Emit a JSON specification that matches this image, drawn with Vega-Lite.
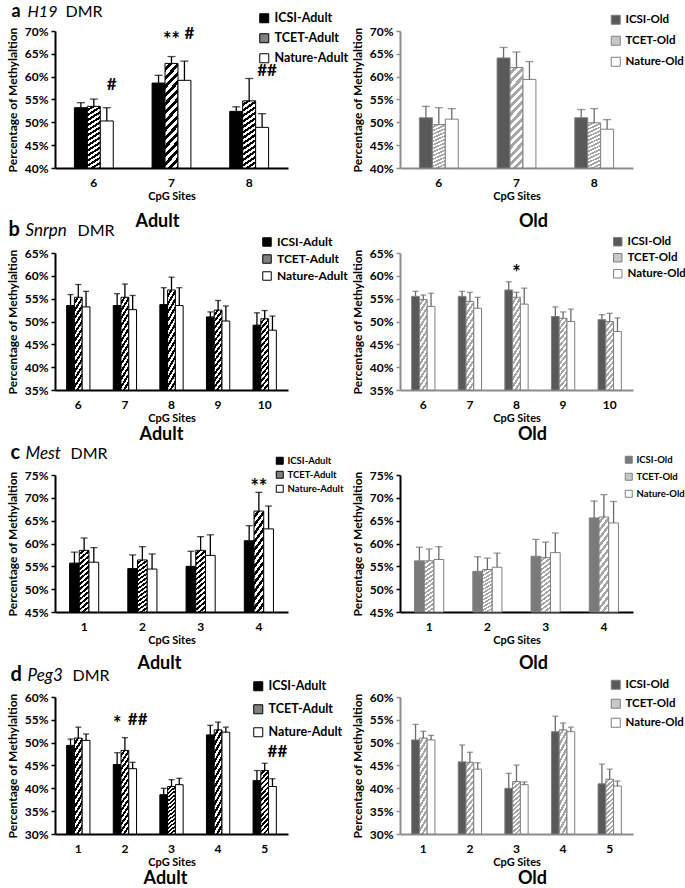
{
  "$schema": "https://vega.github.io/schema/vega-lite/v6.json",
  "padding": {"left": 6, "top": 2, "right": 0, "bottom": 0},
  "config": {
    "font": "Lato",
    "view": {"stroke": null},
    "axis": {"labelFont": "Lato", "labelFontWeight": "bold", "labelFontSize": 12, "labelColor": "#000", "titleFont": "Lato", "titleFontWeight": "bold", "titleFontSize": 11, "titleColor": "#000", "grid": false, "domainWidth": 2, "zindex": 1},
    "axisX": {"labelAngle": 0, "ticks": false, "labelPadding": 9, "titlePadding": 2},
    "axisY": {"tickSize": 4, "tickWidth": 1.5, "labelPadding": 3, "titlePadding": 5, "titleFontSize": 12},
    "legend": {"labelFont": "Lato", "labelFontWeight": "bold", "labelColor": "#000", "symbolType": "square", "symbolStrokeWidth": 1, "labelOffset": 4, "orient": "none"},
    "title": {"font": "Lato", "fontWeight": "bold", "fontSize": 18, "color": "#000", "orient": "bottom", "anchor": "middle", "frame": "group"}
  },
  "datasets": {
    "a_adult": [
      {"site": 6, "group": "ICSI-Adult", "mean": 0.532, "upper": 0.543},
      {"site": 6, "group": "TCET-Adult", "mean": 0.535, "upper": 0.551},
      {"site": 6, "group": "Nature-Adult", "mean": 0.503, "upper": 0.532},
      {"site": 7, "group": "ICSI-Adult", "mean": 0.586, "upper": 0.603},
      {"site": 7, "group": "TCET-Adult", "mean": 0.629, "upper": 0.644},
      {"site": 7, "group": "Nature-Adult", "mean": 0.592, "upper": 0.634},
      {"site": 8, "group": "ICSI-Adult", "mean": 0.524, "upper": 0.534},
      {"site": 8, "group": "TCET-Adult", "mean": 0.547, "upper": 0.596},
      {"site": 8, "group": "Nature-Adult", "mean": 0.489, "upper": 0.519}
    ],
    "a_old": [
      {"site": 6, "group": "ICSI-Old", "mean": 0.510, "upper": 0.535},
      {"site": 6, "group": "TCET-Old", "mean": 0.495, "upper": 0.532},
      {"site": 6, "group": "Nature-Old", "mean": 0.507, "upper": 0.530},
      {"site": 7, "group": "ICSI-Old", "mean": 0.641, "upper": 0.664},
      {"site": 7, "group": "TCET-Old", "mean": 0.620, "upper": 0.654},
      {"site": 7, "group": "Nature-Old", "mean": 0.594, "upper": 0.633},
      {"site": 8, "group": "ICSI-Old", "mean": 0.510, "upper": 0.528},
      {"site": 8, "group": "TCET-Old", "mean": 0.499, "upper": 0.530},
      {"site": 8, "group": "Nature-Old", "mean": 0.485, "upper": 0.506}
    ],
    "b_adult": [
      {"site": 6, "group": "ICSI-Adult", "mean": 0.535, "upper": 0.559},
      {"site": 6, "group": "TCET-Adult", "mean": 0.553, "upper": 0.581},
      {"site": 6, "group": "Nature-Adult", "mean": 0.532, "upper": 0.566},
      {"site": 7, "group": "ICSI-Adult", "mean": 0.535, "upper": 0.561},
      {"site": 7, "group": "TCET-Adult", "mean": 0.553, "upper": 0.582},
      {"site": 7, "group": "Nature-Adult", "mean": 0.526, "upper": 0.557},
      {"site": 8, "group": "ICSI-Adult", "mean": 0.537, "upper": 0.574},
      {"site": 8, "group": "TCET-Adult", "mean": 0.569, "upper": 0.597},
      {"site": 8, "group": "Nature-Adult", "mean": 0.535, "upper": 0.574},
      {"site": 9, "group": "ICSI-Adult", "mean": 0.510, "upper": 0.521},
      {"site": 9, "group": "TCET-Adult", "mean": 0.525, "upper": 0.546},
      {"site": 9, "group": "Nature-Adult", "mean": 0.501, "upper": 0.534},
      {"site": 10, "group": "ICSI-Adult", "mean": 0.492, "upper": 0.519},
      {"site": 10, "group": "TCET-Adult", "mean": 0.506, "upper": 0.524},
      {"site": 10, "group": "Nature-Adult", "mean": 0.481, "upper": 0.512}
    ],
    "b_old": [
      {"site": 6, "group": "ICSI-Old", "mean": 0.555, "upper": 0.566},
      {"site": 6, "group": "TCET-Old", "mean": 0.548, "upper": 0.558},
      {"site": 6, "group": "Nature-Old", "mean": 0.533, "upper": 0.562},
      {"site": 7, "group": "ICSI-Old", "mean": 0.555, "upper": 0.566},
      {"site": 7, "group": "TCET-Old", "mean": 0.544, "upper": 0.564},
      {"site": 7, "group": "Nature-Old", "mean": 0.529, "upper": 0.553},
      {"site": 8, "group": "ICSI-Old", "mean": 0.569, "upper": 0.587},
      {"site": 8, "group": "TCET-Old", "mean": 0.553, "upper": 0.564},
      {"site": 8, "group": "Nature-Old", "mean": 0.538, "upper": 0.573},
      {"site": 9, "group": "ICSI-Old", "mean": 0.511, "upper": 0.532},
      {"site": 9, "group": "TCET-Old", "mean": 0.507, "upper": 0.521},
      {"site": 9, "group": "Nature-Old", "mean": 0.500, "upper": 0.527},
      {"site": 10, "group": "ICSI-Old", "mean": 0.504, "upper": 0.515},
      {"site": 10, "group": "TCET-Old", "mean": 0.500, "upper": 0.518},
      {"site": 10, "group": "Nature-Old", "mean": 0.478, "upper": 0.508}
    ],
    "c_adult": [
      {"site": 1, "group": "ICSI-Adult", "mean": 0.557, "upper": 0.581},
      {"site": 1, "group": "TCET-Adult", "mean": 0.585, "upper": 0.612},
      {"site": 1, "group": "Nature-Adult", "mean": 0.559, "upper": 0.591},
      {"site": 2, "group": "ICSI-Adult", "mean": 0.545, "upper": 0.575},
      {"site": 2, "group": "TCET-Adult", "mean": 0.564, "upper": 0.593},
      {"site": 2, "group": "Nature-Adult", "mean": 0.544, "upper": 0.577},
      {"site": 3, "group": "ICSI-Adult", "mean": 0.550, "upper": 0.583},
      {"site": 3, "group": "TCET-Adult", "mean": 0.585, "upper": 0.615},
      {"site": 3, "group": "Nature-Adult", "mean": 0.574, "upper": 0.619},
      {"site": 4, "group": "ICSI-Adult", "mean": 0.606, "upper": 0.639},
      {"site": 4, "group": "TCET-Adult", "mean": 0.671, "upper": 0.712},
      {"site": 4, "group": "Nature-Adult", "mean": 0.632, "upper": 0.682}
    ],
    "c_old": [
      {"site": 1, "group": "ICSI-Old", "mean": 0.562, "upper": 0.592},
      {"site": 1, "group": "TCET-Old", "mean": 0.562, "upper": 0.588},
      {"site": 1, "group": "Nature-Old", "mean": 0.565, "upper": 0.593},
      {"site": 2, "group": "ICSI-Old", "mean": 0.539, "upper": 0.571},
      {"site": 2, "group": "TCET-Old", "mean": 0.543, "upper": 0.568},
      {"site": 2, "group": "Nature-Old", "mean": 0.548, "upper": 0.579},
      {"site": 3, "group": "ICSI-Old", "mean": 0.572, "upper": 0.609},
      {"site": 3, "group": "TCET-Old", "mean": 0.569, "upper": 0.603},
      {"site": 3, "group": "Nature-Old", "mean": 0.580, "upper": 0.623},
      {"site": 4, "group": "ICSI-Old", "mean": 0.656, "upper": 0.693},
      {"site": 4, "group": "TCET-Old", "mean": 0.658, "upper": 0.707},
      {"site": 4, "group": "Nature-Old", "mean": 0.645, "upper": 0.692}
    ],
    "d_adult": [
      {"site": 1, "group": "ICSI-Adult", "mean": 0.494, "upper": 0.508},
      {"site": 1, "group": "TCET-Adult", "mean": 0.510, "upper": 0.534},
      {"site": 1, "group": "Nature-Adult", "mean": 0.505, "upper": 0.519},
      {"site": 2, "group": "ICSI-Adult", "mean": 0.452, "upper": 0.478},
      {"site": 2, "group": "TCET-Adult", "mean": 0.483, "upper": 0.511},
      {"site": 2, "group": "Nature-Adult", "mean": 0.443, "upper": 0.457},
      {"site": 3, "group": "ICSI-Adult", "mean": 0.386, "upper": 0.400},
      {"site": 3, "group": "TCET-Adult", "mean": 0.404, "upper": 0.419},
      {"site": 3, "group": "Nature-Adult", "mean": 0.408, "upper": 0.422},
      {"site": 4, "group": "ICSI-Adult", "mean": 0.517, "upper": 0.538},
      {"site": 4, "group": "TCET-Adult", "mean": 0.528, "upper": 0.545},
      {"site": 4, "group": "Nature-Adult", "mean": 0.523, "upper": 0.534},
      {"site": 5, "group": "ICSI-Adult", "mean": 0.417, "upper": 0.439},
      {"site": 5, "group": "TCET-Adult", "mean": 0.439, "upper": 0.455},
      {"site": 5, "group": "Nature-Adult", "mean": 0.404, "upper": 0.421}
    ],
    "d_old": [
      {"site": 1, "group": "ICSI-Old", "mean": 0.506, "upper": 0.540},
      {"site": 1, "group": "TCET-Old", "mean": 0.510, "upper": 0.525},
      {"site": 1, "group": "Nature-Old", "mean": 0.506, "upper": 0.516},
      {"site": 2, "group": "ICSI-Old", "mean": 0.458, "upper": 0.495},
      {"site": 2, "group": "TCET-Old", "mean": 0.457, "upper": 0.479},
      {"site": 2, "group": "Nature-Old", "mean": 0.442, "upper": 0.456},
      {"site": 3, "group": "ICSI-Old", "mean": 0.400, "upper": 0.433},
      {"site": 3, "group": "TCET-Old", "mean": 0.415, "upper": 0.451},
      {"site": 3, "group": "Nature-Old", "mean": 0.408, "upper": 0.414},
      {"site": 4, "group": "ICSI-Old", "mean": 0.524, "upper": 0.558},
      {"site": 4, "group": "TCET-Old", "mean": 0.528, "upper": 0.543},
      {"site": 4, "group": "Nature-Old", "mean": 0.524, "upper": 0.534},
      {"site": 5, "group": "ICSI-Old", "mean": 0.410, "upper": 0.453},
      {"site": 5, "group": "TCET-Old", "mean": 0.420, "upper": 0.442},
      {"site": 5, "group": "Nature-Old", "mean": 0.405, "upper": 0.416}
    ],
    "a_adult_star": [{"site": 7, "group": "TCET-Adult", "label": "**", "y": 0.688}],
    "a_adult_hash": [
      {"site": 6, "group": "Nature-Adult", "label": "#", "y": 0.581},
      {"site": 7, "group": "Nature-Adult", "label": "#", "y": 0.693},
      {"site": 8, "group": "Nature-Adult", "label": "##", "y": 0.612}
    ],
    "b_old_star": [{"site": 8, "group": "TCET-Old", "label": "*", "y": 0.616}],
    "c_adult_star": [{"site": 4, "group": "TCET-Adult", "label": "**", "y": 0.732}],
    "d_adult_star": [{"site": 2, "group": "ICSI-Adult", "label": "*", "y": 0.549}],
    "d_adult_hash": [
      {"site": 2, "group": "Nature-Adult", "label": "##", "y": 0.549},
      {"site": 5, "group": "Nature-Adult", "label": "##", "y": 0.479}
    ]
  },
  "columns": 2,
  "bounds": "flush",
  "spacing": {"row": 85, "column": 112},
  "resolve": {
    "scale": {"x": "independent", "y": "independent", "xOffset": "independent", "fill": "independent"},
    "axis": {"x": "independent", "y": "independent"},
    "legend": {"fill": "independent"}
  },
  "concat": [
    {
      "width": 233, "height": 137,
      "data": {"name": "a_adult"},
      "title": {"text": "Adult", "dx": -14, "offset": 12},
      "resolve": {"axis": {"x": "independent", "y": "independent"}},
      "layer": [
        {"mark": {"type": "bar", "stroke": "#000", "strokeWidth": 1},
         "encoding": {
           "x": {"field": "site", "type": "ordinal", "scale": {"paddingInner": 0.5, "paddingOuter": 0.25}, "axis": {"title": "CpG Sites", "domainColor": "#000"}},
           "xOffset": {"field": "group", "type": "nominal", "scale": {"domain": ["ICSI-Adult", "TCET-Adult", "Nature-Adult"]}},
           "y": {"field": "mean", "type": "quantitative", "scale": {"domain": [0.4, 0.7], "zero": false, "nice": false}, "axis": {"title": "Percentage of Methylaltion", "values": [0.4, 0.45, 0.5, 0.55, 0.6, 0.65, 0.7], "format": ".0%", "domainColor": "#000", "tickColor": "#000"}},
           "y2": {"datum": 0.4},
           "fill": {"condition": {"test": "datum.group === 'TCET-Adult'", "value": {"gradient": "linear", "x1": 0, "y1": 0, "x2": 0.15, "y2": 1.13, "stops": [{"offset":0,"color":"#fff"},{"offset":0.0357,"color":"#fff"},{"offset":0.0357,"color":"#000"},{"offset":0.0714,"color":"#000"},{"offset":0.0714,"color":"#fff"},{"offset":0.1071,"color":"#fff"},{"offset":0.1071,"color":"#000"},{"offset":0.1429,"color":"#000"},{"offset":0.1429,"color":"#fff"},{"offset":0.1786,"color":"#fff"},{"offset":0.1786,"color":"#000"},{"offset":0.2143,"color":"#000"},{"offset":0.2143,"color":"#fff"},{"offset":0.25,"color":"#fff"},{"offset":0.25,"color":"#000"},{"offset":0.2857,"color":"#000"},{"offset":0.2857,"color":"#fff"},{"offset":0.3214,"color":"#fff"},{"offset":0.3214,"color":"#000"},{"offset":0.3571,"color":"#000"},{"offset":0.3571,"color":"#fff"},{"offset":0.3929,"color":"#fff"},{"offset":0.3929,"color":"#000"},{"offset":0.4286,"color":"#000"},{"offset":0.4286,"color":"#fff"},{"offset":0.4643,"color":"#fff"},{"offset":0.4643,"color":"#000"},{"offset":0.5,"color":"#000"},{"offset":0.5,"color":"#fff"},{"offset":0.5357,"color":"#fff"},{"offset":0.5357,"color":"#000"},{"offset":0.5714,"color":"#000"},{"offset":0.5714,"color":"#fff"},{"offset":0.6071,"color":"#fff"},{"offset":0.6071,"color":"#000"},{"offset":0.6429,"color":"#000"},{"offset":0.6429,"color":"#fff"},{"offset":0.6786,"color":"#fff"},{"offset":0.6786,"color":"#000"},{"offset":0.7143,"color":"#000"},{"offset":0.7143,"color":"#fff"},{"offset":0.75,"color":"#fff"},{"offset":0.75,"color":"#000"},{"offset":0.7857,"color":"#000"},{"offset":0.7857,"color":"#fff"},{"offset":0.8214,"color":"#fff"},{"offset":0.8214,"color":"#000"},{"offset":0.8571,"color":"#000"},{"offset":0.8571,"color":"#fff"},{"offset":0.8929,"color":"#fff"},{"offset":0.8929,"color":"#000"},{"offset":0.9286,"color":"#000"},{"offset":0.9286,"color":"#fff"},{"offset":0.9643,"color":"#fff"},{"offset":0.9643,"color":"#000"},{"offset":1,"color":"#000"}]}},
             "field": "group", "type": "nominal", "scale": {"domain": ["ICSI-Adult", "TCET-Adult", "Nature-Adult"], "range": ["#000", "#808080", "#fff"]},
             "legend": {"title": null, "legendX": 203, "legendY": -19, "labelFontSize": 12.5, "symbolSize": 81, "rowPadding": 6,
               "encode": {"symbols": {"stroke": {"value": "#000"}, "strokeWidth": {"value": 1}, "fill": [{"test": "datum.value === 'TCET-Adult'", "value": {"gradient": "linear", "x1": 0, "y1": 0, "x2": 1, "y2": 1, "stops": [{"offset":0,"color":"#fff"},{"offset":0.2,"color":"#fff"},{"offset":0.2,"color":"#000"},{"offset":0.4,"color":"#000"},{"offset":0.4,"color":"#fff"},{"offset":0.6,"color":"#fff"},{"offset":0.6,"color":"#000"},{"offset":0.8,"color":"#000"},{"offset":0.8,"color":"#fff"},{"offset":1,"color":"#fff"}]}}, {"test": "datum.value === 'ICSI-Adult'", "value": "#000"}, {"value": "#fff"}]}}}}
         }},
        {"mark": {"type": "rule", "color": "#000", "strokeWidth": 1.3},
         "encoding": {
           "x": {"field": "site", "type": "ordinal", "axis": {"orient": "top", "labels": false, "ticks": false, "domain": false, "title": "a", "titleAngle": 0, "titleAlign": "left", "titleBaseline": "alphabetic", "titleX": -44, "titleY": -15, "titleFontSize": 18, "titleFontWeight": "bold"}},
           "xOffset": {"field": "group", "type": "nominal", "scale": {"domain": ["ICSI-Adult", "TCET-Adult", "Nature-Adult"]}},
           "y": {"field": "mean", "type": "quantitative", "axis": {"orient": "left", "labels": false, "ticks": false, "domain": false, "title": "H19", "titleAngle": 0, "titleAlign": "left", "titleBaseline": "alphabetic", "titleX": -28, "titleY": -15, "titleFontSize": 16, "titleFontWeight": "normal", "titleFontStyle": "italic"}},
           "y2": {"field": "upper"}
         }},
        {"mark": {"type": "tick", "color": "#000", "thickness": 1.3, "size": 8},
         "encoding": {
           "x": {"field": "site", "type": "ordinal", "axis": {"orient": "top", "labels": false, "ticks": false, "domain": false, "title": "DMR", "titleAngle": 0, "titleAlign": "left", "titleBaseline": "alphabetic", "titleX": 10, "titleY": -15, "titleFontSize": 16, "titleFontWeight": "normal"}},
           "xOffset": {"field": "group", "type": "nominal", "scale": {"domain": ["ICSI-Adult", "TCET-Adult", "Nature-Adult"]}},
           "y": {"field": "upper", "type": "quantitative", "axis": null}
         }},
        {"data": {"name": "a_adult_star"},
         "mark": {"type": "text", "fontSize": 20, "fontWeight": "bold", "baseline": "middle", "dy": 5},
         "encoding": {
           "x": {"field": "site", "type": "ordinal", "axis": null},
           "xOffset": {"field": "group", "type": "nominal", "scale": {"domain": ["ICSI-Adult", "TCET-Adult", "Nature-Adult"]}},
           "y": {"field": "y", "type": "quantitative", "axis": null},
           "text": {"field": "label"}
         }},
        {"data": {"name": "a_adult_hash"},
         "mark": {"type": "text", "fontSize": 17, "fontWeight": "bold", "baseline": "middle", "dx": 5},
         "encoding": {
           "x": {"field": "site", "type": "ordinal", "axis": null},
           "xOffset": {"field": "group", "type": "nominal", "scale": {"domain": ["ICSI-Adult", "TCET-Adult", "Nature-Adult"]}},
           "y": {"field": "y", "type": "quantitative", "axis": null},
           "text": {"field": "label"}
         }}
      ]
    },
    {
      "width": 233, "height": 137,
      "data": {"name": "a_old"},
      "title": {"text": "Old", "dx": 17, "offset": 12},
      "resolve": {"axis": {"x": "independent", "y": "independent"}},
      "layer": [
        {"mark": {"type": "bar", "stroke": "#7f7f7f", "strokeWidth": 1},
         "encoding": {
           "x": {"field": "site", "type": "ordinal", "scale": {"paddingInner": 0.5, "paddingOuter": 0.25}, "axis": {"title": "CpG Sites", "domainColor": "#8c8c8c"}},
           "xOffset": {"field": "group", "type": "nominal", "scale": {"domain": ["ICSI-Old", "TCET-Old", "Nature-Old"]}},
           "y": {"field": "mean", "type": "quantitative", "scale": {"domain": [0.4, 0.7], "zero": false, "nice": false}, "axis": {"title": "Percentage of Methylaltion", "values": [0.4, 0.45, 0.5, 0.55, 0.6, 0.65, 0.7], "format": ".0%", "domainColor": "#8c8c8c", "tickColor": "#8c8c8c"}},
           "y2": {"datum": 0.4},
           "fill": {"condition": {"test": "datum.group === 'TCET-Old'", "value": {"gradient": "linear", "x1": 0, "y1": 0, "x2": 0.15, "y2": 1.13, "stops": [{"offset":0,"color":"#fff"},{"offset":0.0357,"color":"#fff"},{"offset":0.0357,"color":"#a6a6a6"},{"offset":0.0714,"color":"#a6a6a6"},{"offset":0.0714,"color":"#fff"},{"offset":0.1071,"color":"#fff"},{"offset":0.1071,"color":"#a6a6a6"},{"offset":0.1429,"color":"#a6a6a6"},{"offset":0.1429,"color":"#fff"},{"offset":0.1786,"color":"#fff"},{"offset":0.1786,"color":"#a6a6a6"},{"offset":0.2143,"color":"#a6a6a6"},{"offset":0.2143,"color":"#fff"},{"offset":0.25,"color":"#fff"},{"offset":0.25,"color":"#a6a6a6"},{"offset":0.2857,"color":"#a6a6a6"},{"offset":0.2857,"color":"#fff"},{"offset":0.3214,"color":"#fff"},{"offset":0.3214,"color":"#a6a6a6"},{"offset":0.3571,"color":"#a6a6a6"},{"offset":0.3571,"color":"#fff"},{"offset":0.3929,"color":"#fff"},{"offset":0.3929,"color":"#a6a6a6"},{"offset":0.4286,"color":"#a6a6a6"},{"offset":0.4286,"color":"#fff"},{"offset":0.4643,"color":"#fff"},{"offset":0.4643,"color":"#a6a6a6"},{"offset":0.5,"color":"#a6a6a6"},{"offset":0.5,"color":"#fff"},{"offset":0.5357,"color":"#fff"},{"offset":0.5357,"color":"#a6a6a6"},{"offset":0.5714,"color":"#a6a6a6"},{"offset":0.5714,"color":"#fff"},{"offset":0.6071,"color":"#fff"},{"offset":0.6071,"color":"#a6a6a6"},{"offset":0.6429,"color":"#a6a6a6"},{"offset":0.6429,"color":"#fff"},{"offset":0.6786,"color":"#fff"},{"offset":0.6786,"color":"#a6a6a6"},{"offset":0.7143,"color":"#a6a6a6"},{"offset":0.7143,"color":"#fff"},{"offset":0.75,"color":"#fff"},{"offset":0.75,"color":"#a6a6a6"},{"offset":0.7857,"color":"#a6a6a6"},{"offset":0.7857,"color":"#fff"},{"offset":0.8214,"color":"#fff"},{"offset":0.8214,"color":"#a6a6a6"},{"offset":0.8571,"color":"#a6a6a6"},{"offset":0.8571,"color":"#fff"},{"offset":0.8929,"color":"#fff"},{"offset":0.8929,"color":"#a6a6a6"},{"offset":0.9286,"color":"#a6a6a6"},{"offset":0.9286,"color":"#fff"},{"offset":0.9643,"color":"#fff"},{"offset":0.9643,"color":"#a6a6a6"},{"offset":1,"color":"#a6a6a6"}]}},
             "field": "group", "type": "nominal", "scale": {"domain": ["ICSI-Old", "TCET-Old", "Nature-Old"], "range": ["#595959", "#c8c8c8", "#fff"]},
             "legend": {"title": null, "legendX": 210, "legendY": -17, "labelFontSize": 11.5, "symbolSize": 81, "rowPadding": 7,
               "encode": {"symbols": {"stroke": {"value": "#7f7f7f"}, "strokeWidth": {"value": 1}, "fill": [{"test": "datum.value === 'TCET-Old'", "value": {"gradient": "linear", "x1": 0, "y1": 0, "x2": 1, "y2": 1, "stops": [{"offset":0,"color":"#fff"},{"offset":0.2,"color":"#fff"},{"offset":0.2,"color":"#a6a6a6"},{"offset":0.4,"color":"#a6a6a6"},{"offset":0.4,"color":"#fff"},{"offset":0.6,"color":"#fff"},{"offset":0.6,"color":"#a6a6a6"},{"offset":0.8,"color":"#a6a6a6"},{"offset":0.8,"color":"#fff"},{"offset":1,"color":"#fff"}]}}, {"test": "datum.value === 'ICSI-Old'", "value": "#595959"}, {"value": "#fff"}]}}}}
         }},
        {"mark": {"type": "rule", "color": "#6b6b6b", "strokeWidth": 1.3},
         "encoding": {
           "x": {"field": "site", "type": "ordinal", "axis": null},
           "xOffset": {"field": "group", "type": "nominal", "scale": {"domain": ["ICSI-Old", "TCET-Old", "Nature-Old"]}},
           "y": {"field": "mean", "type": "quantitative", "axis": null},
           "y2": {"field": "upper"}
         }},
        {"mark": {"type": "tick", "color": "#6b6b6b", "thickness": 1.3, "size": 8},
         "encoding": {
           "x": {"field": "site", "type": "ordinal", "axis": null},
           "xOffset": {"field": "group", "type": "nominal", "scale": {"domain": ["ICSI-Old", "TCET-Old", "Nature-Old"]}},
           "y": {"field": "upper", "type": "quantitative", "axis": null}
         }}
      ]
    },
    {
      "width": 233, "height": 137,
      "data": {"name": "b_adult"},
      "title": {"text": "Adult", "dx": -10, "offset": 3},
      "resolve": {"axis": {"x": "independent", "y": "independent"}},
      "layer": [
        {"mark": {"type": "bar", "stroke": "#000", "strokeWidth": 1},
         "encoding": {
           "x": {"field": "site", "type": "ordinal", "scale": {"paddingInner": 0.5, "paddingOuter": 0.25}, "axis": {"title": "CpG Sites", "domainColor": "#000"}},
           "xOffset": {"field": "group", "type": "nominal", "scale": {"domain": ["ICSI-Adult", "TCET-Adult", "Nature-Adult"]}},
           "y": {"field": "mean", "type": "quantitative", "scale": {"domain": [0.35, 0.65], "zero": false, "nice": false}, "axis": {"title": "Percentage of Methylaltion", "values": [0.35, 0.4, 0.45, 0.5, 0.55, 0.6, 0.65], "format": ".0%", "domainColor": "#000", "tickColor": "#000"}},
           "y2": {"datum": 0.35},
           "fill": {"condition": {"test": "datum.group === 'TCET-Adult'", "value": {"gradient": "linear", "x1": 0, "y1": 0, "x2": 0.15, "y2": 1.13, "stops": [{"offset":0,"color":"#fff"},{"offset":0.0357,"color":"#fff"},{"offset":0.0357,"color":"#000"},{"offset":0.0714,"color":"#000"},{"offset":0.0714,"color":"#fff"},{"offset":0.1071,"color":"#fff"},{"offset":0.1071,"color":"#000"},{"offset":0.1429,"color":"#000"},{"offset":0.1429,"color":"#fff"},{"offset":0.1786,"color":"#fff"},{"offset":0.1786,"color":"#000"},{"offset":0.2143,"color":"#000"},{"offset":0.2143,"color":"#fff"},{"offset":0.25,"color":"#fff"},{"offset":0.25,"color":"#000"},{"offset":0.2857,"color":"#000"},{"offset":0.2857,"color":"#fff"},{"offset":0.3214,"color":"#fff"},{"offset":0.3214,"color":"#000"},{"offset":0.3571,"color":"#000"},{"offset":0.3571,"color":"#fff"},{"offset":0.3929,"color":"#fff"},{"offset":0.3929,"color":"#000"},{"offset":0.4286,"color":"#000"},{"offset":0.4286,"color":"#fff"},{"offset":0.4643,"color":"#fff"},{"offset":0.4643,"color":"#000"},{"offset":0.5,"color":"#000"},{"offset":0.5,"color":"#fff"},{"offset":0.5357,"color":"#fff"},{"offset":0.5357,"color":"#000"},{"offset":0.5714,"color":"#000"},{"offset":0.5714,"color":"#fff"},{"offset":0.6071,"color":"#fff"},{"offset":0.6071,"color":"#000"},{"offset":0.6429,"color":"#000"},{"offset":0.6429,"color":"#fff"},{"offset":0.6786,"color":"#fff"},{"offset":0.6786,"color":"#000"},{"offset":0.7143,"color":"#000"},{"offset":0.7143,"color":"#fff"},{"offset":0.75,"color":"#fff"},{"offset":0.75,"color":"#000"},{"offset":0.7857,"color":"#000"},{"offset":0.7857,"color":"#fff"},{"offset":0.8214,"color":"#fff"},{"offset":0.8214,"color":"#000"},{"offset":0.8571,"color":"#000"},{"offset":0.8571,"color":"#fff"},{"offset":0.8929,"color":"#fff"},{"offset":0.8929,"color":"#000"},{"offset":0.9286,"color":"#000"},{"offset":0.9286,"color":"#fff"},{"offset":0.9643,"color":"#fff"},{"offset":0.9643,"color":"#000"},{"offset":1,"color":"#000"}]}},
             "field": "group", "type": "nominal", "scale": {"domain": ["ICSI-Adult", "TCET-Adult", "Nature-Adult"], "range": ["#000", "#808080", "#fff"]},
             "legend": {"title": null, "legendX": 206, "legendY": -17, "labelFontSize": 12, "symbolSize": 72, "rowPadding": 3,
               "encode": {"symbols": {"stroke": {"value": "#000"}, "strokeWidth": {"value": 1}, "fill": [{"test": "datum.value === 'TCET-Adult'", "value": {"gradient": "linear", "x1": 0, "y1": 0, "x2": 1, "y2": 1, "stops": [{"offset":0,"color":"#fff"},{"offset":0.2,"color":"#fff"},{"offset":0.2,"color":"#000"},{"offset":0.4,"color":"#000"},{"offset":0.4,"color":"#fff"},{"offset":0.6,"color":"#fff"},{"offset":0.6,"color":"#000"},{"offset":0.8,"color":"#000"},{"offset":0.8,"color":"#fff"},{"offset":1,"color":"#fff"}]}}, {"test": "datum.value === 'ICSI-Adult'", "value": "#000"}, {"value": "#fff"}]}}}}
         }},
        {"mark": {"type": "rule", "color": "#000", "strokeWidth": 1.3},
         "encoding": {
           "x": {"field": "site", "type": "ordinal", "axis": {"orient": "top", "labels": false, "ticks": false, "domain": false, "title": "b", "titleAngle": 0, "titleAlign": "left", "titleBaseline": "alphabetic", "titleX": -47, "titleY": -18, "titleFontSize": 20, "titleFontWeight": "bold"}},
           "xOffset": {"field": "group", "type": "nominal", "scale": {"domain": ["ICSI-Adult", "TCET-Adult", "Nature-Adult"]}},
           "y": {"field": "mean", "type": "quantitative", "axis": {"orient": "left", "labels": false, "ticks": false, "domain": false, "title": "Snrpn", "titleAngle": 0, "titleAlign": "left", "titleBaseline": "alphabetic", "titleX": -30, "titleY": -18, "titleFontSize": 17, "titleFontWeight": "normal", "titleFontStyle": "italic"}},
           "y2": {"field": "upper"}
         }},
        {"mark": {"type": "tick", "color": "#000", "thickness": 1.3, "size": 6},
         "encoding": {
           "x": {"field": "site", "type": "ordinal", "axis": {"orient": "top", "labels": false, "ticks": false, "domain": false, "title": "DMR", "titleAngle": 0, "titleAlign": "left", "titleBaseline": "alphabetic", "titleX": 22, "titleY": -18, "titleFontSize": 16, "titleFontWeight": "normal"}},
           "xOffset": {"field": "group", "type": "nominal", "scale": {"domain": ["ICSI-Adult", "TCET-Adult", "Nature-Adult"]}},
           "y": {"field": "upper", "type": "quantitative", "axis": null}
         }}
      ]
    },
    {
      "width": 233, "height": 137,
      "data": {"name": "b_old"},
      "title": {"text": "Old", "dx": 16, "offset": 3},
      "resolve": {"axis": {"x": "independent", "y": "independent"}},
      "layer": [
        {"mark": {"type": "bar", "stroke": "#7f7f7f", "strokeWidth": 1},
         "encoding": {
           "x": {"field": "site", "type": "ordinal", "scale": {"paddingInner": 0.5, "paddingOuter": 0.25}, "axis": {"title": "CpG Sites", "domainColor": "#8c8c8c"}},
           "xOffset": {"field": "group", "type": "nominal", "scale": {"domain": ["ICSI-Old", "TCET-Old", "Nature-Old"]}},
           "y": {"field": "mean", "type": "quantitative", "scale": {"domain": [0.35, 0.65], "zero": false, "nice": false}, "axis": {"title": "Percentage of Methylaltion", "values": [0.35, 0.4, 0.45, 0.5, 0.55, 0.6, 0.65], "format": ".0%", "domainColor": "#8c8c8c", "tickColor": "#8c8c8c"}},
           "y2": {"datum": 0.35},
           "fill": {"condition": {"test": "datum.group === 'TCET-Old'", "value": {"gradient": "linear", "x1": 0, "y1": 0, "x2": 0.15, "y2": 1.13, "stops": [{"offset":0,"color":"#fff"},{"offset":0.0357,"color":"#fff"},{"offset":0.0357,"color":"#a6a6a6"},{"offset":0.0714,"color":"#a6a6a6"},{"offset":0.0714,"color":"#fff"},{"offset":0.1071,"color":"#fff"},{"offset":0.1071,"color":"#a6a6a6"},{"offset":0.1429,"color":"#a6a6a6"},{"offset":0.1429,"color":"#fff"},{"offset":0.1786,"color":"#fff"},{"offset":0.1786,"color":"#a6a6a6"},{"offset":0.2143,"color":"#a6a6a6"},{"offset":0.2143,"color":"#fff"},{"offset":0.25,"color":"#fff"},{"offset":0.25,"color":"#a6a6a6"},{"offset":0.2857,"color":"#a6a6a6"},{"offset":0.2857,"color":"#fff"},{"offset":0.3214,"color":"#fff"},{"offset":0.3214,"color":"#a6a6a6"},{"offset":0.3571,"color":"#a6a6a6"},{"offset":0.3571,"color":"#fff"},{"offset":0.3929,"color":"#fff"},{"offset":0.3929,"color":"#a6a6a6"},{"offset":0.4286,"color":"#a6a6a6"},{"offset":0.4286,"color":"#fff"},{"offset":0.4643,"color":"#fff"},{"offset":0.4643,"color":"#a6a6a6"},{"offset":0.5,"color":"#a6a6a6"},{"offset":0.5,"color":"#fff"},{"offset":0.5357,"color":"#fff"},{"offset":0.5357,"color":"#a6a6a6"},{"offset":0.5714,"color":"#a6a6a6"},{"offset":0.5714,"color":"#fff"},{"offset":0.6071,"color":"#fff"},{"offset":0.6071,"color":"#a6a6a6"},{"offset":0.6429,"color":"#a6a6a6"},{"offset":0.6429,"color":"#fff"},{"offset":0.6786,"color":"#fff"},{"offset":0.6786,"color":"#a6a6a6"},{"offset":0.7143,"color":"#a6a6a6"},{"offset":0.7143,"color":"#fff"},{"offset":0.75,"color":"#fff"},{"offset":0.75,"color":"#a6a6a6"},{"offset":0.7857,"color":"#a6a6a6"},{"offset":0.7857,"color":"#fff"},{"offset":0.8214,"color":"#fff"},{"offset":0.8214,"color":"#a6a6a6"},{"offset":0.8571,"color":"#a6a6a6"},{"offset":0.8571,"color":"#fff"},{"offset":0.8929,"color":"#fff"},{"offset":0.8929,"color":"#a6a6a6"},{"offset":0.9286,"color":"#a6a6a6"},{"offset":0.9286,"color":"#fff"},{"offset":0.9643,"color":"#fff"},{"offset":0.9643,"color":"#a6a6a6"},{"offset":1,"color":"#a6a6a6"}]}},
             "field": "group", "type": "nominal", "scale": {"domain": ["ICSI-Old", "TCET-Old", "Nature-Old"], "range": ["#595959", "#c8c8c8", "#fff"]},
             "legend": {"title": null, "legendX": 212, "legendY": -17, "labelFontSize": 11.5, "symbolSize": 72, "rowPadding": 3,
               "encode": {"symbols": {"stroke": {"value": "#7f7f7f"}, "strokeWidth": {"value": 1}, "fill": [{"test": "datum.value === 'TCET-Old'", "value": {"gradient": "linear", "x1": 0, "y1": 0, "x2": 1, "y2": 1, "stops": [{"offset":0,"color":"#fff"},{"offset":0.2,"color":"#fff"},{"offset":0.2,"color":"#a6a6a6"},{"offset":0.4,"color":"#a6a6a6"},{"offset":0.4,"color":"#fff"},{"offset":0.6,"color":"#fff"},{"offset":0.6,"color":"#a6a6a6"},{"offset":0.8,"color":"#a6a6a6"},{"offset":0.8,"color":"#fff"},{"offset":1,"color":"#fff"}]}}, {"test": "datum.value === 'ICSI-Old'", "value": "#595959"}, {"value": "#fff"}]}}}}
         }},
        {"mark": {"type": "rule", "color": "#6b6b6b", "strokeWidth": 1.3},
         "encoding": {
           "x": {"field": "site", "type": "ordinal", "axis": null},
           "xOffset": {"field": "group", "type": "nominal", "scale": {"domain": ["ICSI-Old", "TCET-Old", "Nature-Old"]}},
           "y": {"field": "mean", "type": "quantitative", "axis": null},
           "y2": {"field": "upper"}
         }},
        {"mark": {"type": "tick", "color": "#6b6b6b", "thickness": 1.3, "size": 6},
         "encoding": {
           "x": {"field": "site", "type": "ordinal", "axis": null},
           "xOffset": {"field": "group", "type": "nominal", "scale": {"domain": ["ICSI-Old", "TCET-Old", "Nature-Old"]}},
           "y": {"field": "upper", "type": "quantitative", "axis": null}
         }},
        {"data": {"name": "b_old_star"},
         "mark": {"type": "text", "fontSize": 20, "fontWeight": "bold", "baseline": "middle", "dy": 5},
         "encoding": {
           "x": {"field": "site", "type": "ordinal", "axis": null},
           "xOffset": {"field": "group", "type": "nominal", "scale": {"domain": ["ICSI-Old", "TCET-Old", "Nature-Old"]}},
           "y": {"field": "y", "type": "quantitative", "axis": null},
           "text": {"field": "label"}
         }}
      ]
    },
    {
      "width": 233, "height": 137,
      "data": {"name": "c_adult"},
      "title": {"text": "Adult", "dx": -12, "offset": 10},
      "resolve": {"axis": {"x": "independent", "y": "independent"}},
      "layer": [
        {"mark": {"type": "bar", "stroke": "#000", "strokeWidth": 1},
         "encoding": {
           "x": {"field": "site", "type": "ordinal", "scale": {"paddingInner": 0.5, "paddingOuter": 0.25}, "axis": {"title": "CpG Sites", "domainColor": "#000"}},
           "xOffset": {"field": "group", "type": "nominal", "scale": {"domain": ["ICSI-Adult", "TCET-Adult", "Nature-Adult"]}},
           "y": {"field": "mean", "type": "quantitative", "scale": {"domain": [0.45, 0.75], "zero": false, "nice": false}, "axis": {"title": "Percentage of Methylaltion", "values": [0.45, 0.5, 0.55, 0.6, 0.65, 0.7, 0.75], "format": ".0%", "domainColor": "#000", "tickColor": "#000"}},
           "y2": {"datum": 0.45},
           "fill": {"condition": {"test": "datum.group === 'TCET-Adult'", "value": {"gradient": "linear", "x1": 0, "y1": 0, "x2": 0.15, "y2": 1.13, "stops": [{"offset":0,"color":"#fff"},{"offset":0.0357,"color":"#fff"},{"offset":0.0357,"color":"#000"},{"offset":0.0714,"color":"#000"},{"offset":0.0714,"color":"#fff"},{"offset":0.1071,"color":"#fff"},{"offset":0.1071,"color":"#000"},{"offset":0.1429,"color":"#000"},{"offset":0.1429,"color":"#fff"},{"offset":0.1786,"color":"#fff"},{"offset":0.1786,"color":"#000"},{"offset":0.2143,"color":"#000"},{"offset":0.2143,"color":"#fff"},{"offset":0.25,"color":"#fff"},{"offset":0.25,"color":"#000"},{"offset":0.2857,"color":"#000"},{"offset":0.2857,"color":"#fff"},{"offset":0.3214,"color":"#fff"},{"offset":0.3214,"color":"#000"},{"offset":0.3571,"color":"#000"},{"offset":0.3571,"color":"#fff"},{"offset":0.3929,"color":"#fff"},{"offset":0.3929,"color":"#000"},{"offset":0.4286,"color":"#000"},{"offset":0.4286,"color":"#fff"},{"offset":0.4643,"color":"#fff"},{"offset":0.4643,"color":"#000"},{"offset":0.5,"color":"#000"},{"offset":0.5,"color":"#fff"},{"offset":0.5357,"color":"#fff"},{"offset":0.5357,"color":"#000"},{"offset":0.5714,"color":"#000"},{"offset":0.5714,"color":"#fff"},{"offset":0.6071,"color":"#fff"},{"offset":0.6071,"color":"#000"},{"offset":0.6429,"color":"#000"},{"offset":0.6429,"color":"#fff"},{"offset":0.6786,"color":"#fff"},{"offset":0.6786,"color":"#000"},{"offset":0.7143,"color":"#000"},{"offset":0.7143,"color":"#fff"},{"offset":0.75,"color":"#fff"},{"offset":0.75,"color":"#000"},{"offset":0.7857,"color":"#000"},{"offset":0.7857,"color":"#fff"},{"offset":0.8214,"color":"#fff"},{"offset":0.8214,"color":"#000"},{"offset":0.8571,"color":"#000"},{"offset":0.8571,"color":"#fff"},{"offset":0.8929,"color":"#fff"},{"offset":0.8929,"color":"#000"},{"offset":0.9286,"color":"#000"},{"offset":0.9286,"color":"#fff"},{"offset":0.9643,"color":"#fff"},{"offset":0.9643,"color":"#000"},{"offset":1,"color":"#000"}]}},
             "field": "group", "type": "nominal", "scale": {"domain": ["ICSI-Adult", "TCET-Adult", "Nature-Adult"], "range": ["#000", "#808080", "#fff"]},
             "legend": {"title": null, "legendX": 220, "legendY": -19, "labelFontSize": 9.5, "symbolSize": 49, "rowPadding": 2, "labelOffset": 3,
               "encode": {"symbols": {"stroke": {"value": "#000"}, "strokeWidth": {"value": 1}, "fill": [{"test": "datum.value === 'TCET-Adult'", "value": {"gradient": "linear", "x1": 0, "y1": 0, "x2": 1, "y2": 1, "stops": [{"offset":0,"color":"#fff"},{"offset":0.2,"color":"#fff"},{"offset":0.2,"color":"#000"},{"offset":0.4,"color":"#000"},{"offset":0.4,"color":"#fff"},{"offset":0.6,"color":"#fff"},{"offset":0.6,"color":"#000"},{"offset":0.8,"color":"#000"},{"offset":0.8,"color":"#fff"},{"offset":1,"color":"#fff"}]}}, {"test": "datum.value === 'ICSI-Adult'", "value": "#000"}, {"value": "#fff"}]}}}}
         }},
        {"mark": {"type": "rule", "color": "#000", "strokeWidth": 1.3},
         "encoding": {
           "x": {"field": "site", "type": "ordinal", "axis": {"orient": "top", "labels": false, "ticks": false, "domain": false, "title": "c", "titleAngle": 0, "titleAlign": "left", "titleBaseline": "alphabetic", "titleX": -45, "titleY": -17, "titleFontSize": 20, "titleFontWeight": "bold"}},
           "xOffset": {"field": "group", "type": "nominal", "scale": {"domain": ["ICSI-Adult", "TCET-Adult", "Nature-Adult"]}},
           "y": {"field": "mean", "type": "quantitative", "axis": {"orient": "left", "labels": false, "ticks": false, "domain": false, "title": "Mest", "titleAngle": 0, "titleAlign": "left", "titleBaseline": "alphabetic", "titleX": -30, "titleY": -17, "titleFontSize": 17, "titleFontWeight": "normal", "titleFontStyle": "italic"}},
           "y2": {"field": "upper"}
         }},
        {"mark": {"type": "tick", "color": "#000", "thickness": 1.3, "size": 7},
         "encoding": {
           "x": {"field": "site", "type": "ordinal", "axis": {"orient": "top", "labels": false, "ticks": false, "domain": false, "title": "DMR", "titleAngle": 0, "titleAlign": "left", "titleBaseline": "alphabetic", "titleX": 15, "titleY": -17, "titleFontSize": 16, "titleFontWeight": "normal"}},
           "xOffset": {"field": "group", "type": "nominal", "scale": {"domain": ["ICSI-Adult", "TCET-Adult", "Nature-Adult"]}},
           "y": {"field": "upper", "type": "quantitative", "axis": null}
         }},
        {"data": {"name": "c_adult_star"},
         "mark": {"type": "text", "fontSize": 20, "fontWeight": "bold", "baseline": "middle", "dy": 5},
         "encoding": {
           "x": {"field": "site", "type": "ordinal", "axis": null},
           "xOffset": {"field": "group", "type": "nominal", "scale": {"domain": ["ICSI-Adult", "TCET-Adult", "Nature-Adult"]}},
           "y": {"field": "y", "type": "quantitative", "axis": null},
           "text": {"field": "label"}
         }}
      ]
    },
    {
      "width": 233, "height": 137,
      "data": {"name": "c_old"},
      "title": {"text": "Old", "dx": 17, "offset": 10},
      "resolve": {"axis": {"x": "independent", "y": "independent"}},
      "layer": [
        {"mark": {"type": "bar", "stroke": "#7f7f7f", "strokeWidth": 1},
         "encoding": {
           "x": {"field": "site", "type": "ordinal", "scale": {"paddingInner": 0.5, "paddingOuter": 0.25}, "axis": {"title": "CpG Sites", "domainColor": "#000"}},
           "xOffset": {"field": "group", "type": "nominal", "scale": {"domain": ["ICSI-Old", "TCET-Old", "Nature-Old"]}},
           "y": {"field": "mean", "type": "quantitative", "scale": {"domain": [0.45, 0.75], "zero": false, "nice": false}, "axis": {"title": "Percentage of Methylaltion", "values": [0.45, 0.5, 0.55, 0.6, 0.65, 0.7, 0.75], "format": ".0%", "domainColor": "#000", "tickColor": "#000"}},
           "y2": {"datum": 0.45},
           "fill": {"condition": {"test": "datum.group === 'TCET-Old'", "value": {"gradient": "linear", "x1": 0, "y1": 0, "x2": 0.15, "y2": 1.13, "stops": [{"offset":0,"color":"#fff"},{"offset":0.0357,"color":"#fff"},{"offset":0.0357,"color":"#a6a6a6"},{"offset":0.0714,"color":"#a6a6a6"},{"offset":0.0714,"color":"#fff"},{"offset":0.1071,"color":"#fff"},{"offset":0.1071,"color":"#a6a6a6"},{"offset":0.1429,"color":"#a6a6a6"},{"offset":0.1429,"color":"#fff"},{"offset":0.1786,"color":"#fff"},{"offset":0.1786,"color":"#a6a6a6"},{"offset":0.2143,"color":"#a6a6a6"},{"offset":0.2143,"color":"#fff"},{"offset":0.25,"color":"#fff"},{"offset":0.25,"color":"#a6a6a6"},{"offset":0.2857,"color":"#a6a6a6"},{"offset":0.2857,"color":"#fff"},{"offset":0.3214,"color":"#fff"},{"offset":0.3214,"color":"#a6a6a6"},{"offset":0.3571,"color":"#a6a6a6"},{"offset":0.3571,"color":"#fff"},{"offset":0.3929,"color":"#fff"},{"offset":0.3929,"color":"#a6a6a6"},{"offset":0.4286,"color":"#a6a6a6"},{"offset":0.4286,"color":"#fff"},{"offset":0.4643,"color":"#fff"},{"offset":0.4643,"color":"#a6a6a6"},{"offset":0.5,"color":"#a6a6a6"},{"offset":0.5,"color":"#fff"},{"offset":0.5357,"color":"#fff"},{"offset":0.5357,"color":"#a6a6a6"},{"offset":0.5714,"color":"#a6a6a6"},{"offset":0.5714,"color":"#fff"},{"offset":0.6071,"color":"#fff"},{"offset":0.6071,"color":"#a6a6a6"},{"offset":0.6429,"color":"#a6a6a6"},{"offset":0.6429,"color":"#fff"},{"offset":0.6786,"color":"#fff"},{"offset":0.6786,"color":"#a6a6a6"},{"offset":0.7143,"color":"#a6a6a6"},{"offset":0.7143,"color":"#fff"},{"offset":0.75,"color":"#fff"},{"offset":0.75,"color":"#a6a6a6"},{"offset":0.7857,"color":"#a6a6a6"},{"offset":0.7857,"color":"#fff"},{"offset":0.8214,"color":"#fff"},{"offset":0.8214,"color":"#a6a6a6"},{"offset":0.8571,"color":"#a6a6a6"},{"offset":0.8571,"color":"#fff"},{"offset":0.8929,"color":"#fff"},{"offset":0.8929,"color":"#a6a6a6"},{"offset":0.9286,"color":"#a6a6a6"},{"offset":0.9286,"color":"#fff"},{"offset":0.9643,"color":"#fff"},{"offset":0.9643,"color":"#a6a6a6"},{"offset":1,"color":"#a6a6a6"}]}},
             "field": "group", "type": "nominal", "scale": {"domain": ["ICSI-Old", "TCET-Old", "Nature-Old"], "range": ["#7a7a7a", "#c8c8c8", "#fff"]},
             "legend": {"title": null, "legendX": 224, "legendY": -20, "labelFontSize": 9.5, "symbolSize": 49, "rowPadding": 5, "labelOffset": 3,
               "encode": {"symbols": {"stroke": {"value": "#7f7f7f"}, "strokeWidth": {"value": 1}, "fill": [{"test": "datum.value === 'TCET-Old'", "value": {"gradient": "linear", "x1": 0, "y1": 0, "x2": 1, "y2": 1, "stops": [{"offset":0,"color":"#fff"},{"offset":0.2,"color":"#fff"},{"offset":0.2,"color":"#a6a6a6"},{"offset":0.4,"color":"#a6a6a6"},{"offset":0.4,"color":"#fff"},{"offset":0.6,"color":"#fff"},{"offset":0.6,"color":"#a6a6a6"},{"offset":0.8,"color":"#a6a6a6"},{"offset":0.8,"color":"#fff"},{"offset":1,"color":"#fff"}]}}, {"test": "datum.value === 'ICSI-Old'", "value": "#7a7a7a"}, {"value": "#fff"}]}}}}
         }},
        {"mark": {"type": "rule", "color": "#6b6b6b", "strokeWidth": 1.3},
         "encoding": {
           "x": {"field": "site", "type": "ordinal", "axis": null},
           "xOffset": {"field": "group", "type": "nominal", "scale": {"domain": ["ICSI-Old", "TCET-Old", "Nature-Old"]}},
           "y": {"field": "mean", "type": "quantitative", "axis": null},
           "y2": {"field": "upper"}
         }},
        {"mark": {"type": "tick", "color": "#6b6b6b", "thickness": 1.3, "size": 7},
         "encoding": {
           "x": {"field": "site", "type": "ordinal", "axis": null},
           "xOffset": {"field": "group", "type": "nominal", "scale": {"domain": ["ICSI-Old", "TCET-Old", "Nature-Old"]}},
           "y": {"field": "upper", "type": "quantitative", "axis": null}
         }}
      ]
    },
    {
      "width": 233, "height": 137,
      "data": {"name": "d_adult"},
      "title": {"text": "Adult", "dx": -6, "offset": 3},
      "resolve": {"axis": {"x": "independent", "y": "independent"}},
      "layer": [
        {"mark": {"type": "bar", "stroke": "#000", "strokeWidth": 1},
         "encoding": {
           "x": {"field": "site", "type": "ordinal", "scale": {"paddingInner": 0.5, "paddingOuter": 0.25}, "axis": {"title": "CpG Sites", "domainColor": "#000"}},
           "xOffset": {"field": "group", "type": "nominal", "scale": {"domain": ["ICSI-Adult", "TCET-Adult", "Nature-Adult"]}},
           "y": {"field": "mean", "type": "quantitative", "scale": {"domain": [0.3, 0.6], "zero": false, "nice": false}, "axis": {"title": "Percentage of Methylaltion", "values": [0.3, 0.35, 0.4, 0.45, 0.5, 0.55, 0.6], "format": ".0%", "domainColor": "#000", "tickColor": "#000"}},
           "y2": {"datum": 0.3},
           "fill": {"condition": {"test": "datum.group === 'TCET-Adult'", "value": {"gradient": "linear", "x1": 0, "y1": 0, "x2": 0.15, "y2": 1.13, "stops": [{"offset":0,"color":"#fff"},{"offset":0.0357,"color":"#fff"},{"offset":0.0357,"color":"#000"},{"offset":0.0714,"color":"#000"},{"offset":0.0714,"color":"#fff"},{"offset":0.1071,"color":"#fff"},{"offset":0.1071,"color":"#000"},{"offset":0.1429,"color":"#000"},{"offset":0.1429,"color":"#fff"},{"offset":0.1786,"color":"#fff"},{"offset":0.1786,"color":"#000"},{"offset":0.2143,"color":"#000"},{"offset":0.2143,"color":"#fff"},{"offset":0.25,"color":"#fff"},{"offset":0.25,"color":"#000"},{"offset":0.2857,"color":"#000"},{"offset":0.2857,"color":"#fff"},{"offset":0.3214,"color":"#fff"},{"offset":0.3214,"color":"#000"},{"offset":0.3571,"color":"#000"},{"offset":0.3571,"color":"#fff"},{"offset":0.3929,"color":"#fff"},{"offset":0.3929,"color":"#000"},{"offset":0.4286,"color":"#000"},{"offset":0.4286,"color":"#fff"},{"offset":0.4643,"color":"#fff"},{"offset":0.4643,"color":"#000"},{"offset":0.5,"color":"#000"},{"offset":0.5,"color":"#fff"},{"offset":0.5357,"color":"#fff"},{"offset":0.5357,"color":"#000"},{"offset":0.5714,"color":"#000"},{"offset":0.5714,"color":"#fff"},{"offset":0.6071,"color":"#fff"},{"offset":0.6071,"color":"#000"},{"offset":0.6429,"color":"#000"},{"offset":0.6429,"color":"#fff"},{"offset":0.6786,"color":"#fff"},{"offset":0.6786,"color":"#000"},{"offset":0.7143,"color":"#000"},{"offset":0.7143,"color":"#fff"},{"offset":0.75,"color":"#fff"},{"offset":0.75,"color":"#000"},{"offset":0.7857,"color":"#000"},{"offset":0.7857,"color":"#fff"},{"offset":0.8214,"color":"#fff"},{"offset":0.8214,"color":"#000"},{"offset":0.8571,"color":"#000"},{"offset":0.8571,"color":"#fff"},{"offset":0.8929,"color":"#fff"},{"offset":0.8929,"color":"#000"},{"offset":0.9286,"color":"#000"},{"offset":0.9286,"color":"#fff"},{"offset":0.9643,"color":"#fff"},{"offset":0.9643,"color":"#000"},{"offset":1,"color":"#000"}]}},
             "field": "group", "type": "nominal", "scale": {"domain": ["ICSI-Adult", "TCET-Adult", "Nature-Adult"], "range": ["#000", "#808080", "#fff"]},
             "legend": {"title": null, "legendX": 197, "legendY": -17, "labelFontSize": 12.5, "symbolSize": 81, "rowPadding": 9,
               "encode": {"symbols": {"stroke": {"value": "#000"}, "strokeWidth": {"value": 1}, "fill": [{"test": "datum.value === 'TCET-Adult'", "value": {"gradient": "linear", "x1": 0, "y1": 0, "x2": 1, "y2": 1, "stops": [{"offset":0,"color":"#fff"},{"offset":0.2,"color":"#fff"},{"offset":0.2,"color":"#000"},{"offset":0.4,"color":"#000"},{"offset":0.4,"color":"#fff"},{"offset":0.6,"color":"#fff"},{"offset":0.6,"color":"#000"},{"offset":0.8,"color":"#000"},{"offset":0.8,"color":"#fff"},{"offset":1,"color":"#fff"}]}}, {"test": "datum.value === 'ICSI-Adult'", "value": "#000"}, {"value": "#fff"}]}}}}
         }},
        {"mark": {"type": "rule", "color": "#000", "strokeWidth": 1.3},
         "encoding": {
           "x": {"field": "site", "type": "ordinal", "axis": {"orient": "top", "labels": false, "ticks": false, "domain": false, "title": "d", "titleAngle": 0, "titleAlign": "left", "titleBaseline": "alphabetic", "titleX": -45, "titleY": -17, "titleFontSize": 20, "titleFontWeight": "bold"}},
           "xOffset": {"field": "group", "type": "nominal", "scale": {"domain": ["ICSI-Adult", "TCET-Adult", "Nature-Adult"]}},
           "y": {"field": "mean", "type": "quantitative", "axis": {"orient": "left", "labels": false, "ticks": false, "domain": false, "title": "Peg3", "titleAngle": 0, "titleAlign": "left", "titleBaseline": "alphabetic", "titleX": -28, "titleY": -17, "titleFontSize": 17, "titleFontWeight": "normal", "titleFontStyle": "italic"}},
           "y2": {"field": "upper"}
         }},
        {"mark": {"type": "tick", "color": "#000", "thickness": 1.3, "size": 6},
         "encoding": {
           "x": {"field": "site", "type": "ordinal", "axis": {"orient": "top", "labels": false, "ticks": false, "domain": false, "title": "DMR", "titleAngle": 0, "titleAlign": "left", "titleBaseline": "alphabetic", "titleX": 17, "titleY": -17, "titleFontSize": 16, "titleFontWeight": "normal"}},
           "xOffset": {"field": "group", "type": "nominal", "scale": {"domain": ["ICSI-Adult", "TCET-Adult", "Nature-Adult"]}},
           "y": {"field": "upper", "type": "quantitative", "axis": null}
         }},
        {"data": {"name": "d_adult_star"},
         "mark": {"type": "text", "fontSize": 20, "fontWeight": "bold", "baseline": "middle", "dy": 5},
         "encoding": {
           "x": {"field": "site", "type": "ordinal", "axis": null},
           "xOffset": {"field": "group", "type": "nominal", "scale": {"domain": ["ICSI-Adult", "TCET-Adult", "Nature-Adult"]}},
           "y": {"field": "y", "type": "quantitative", "axis": null},
           "text": {"field": "label"}
         }},
        {"data": {"name": "d_adult_hash"},
         "mark": {"type": "text", "fontSize": 17, "fontWeight": "bold", "baseline": "middle", "dx": 5},
         "encoding": {
           "x": {"field": "site", "type": "ordinal", "axis": null},
           "xOffset": {"field": "group", "type": "nominal", "scale": {"domain": ["ICSI-Adult", "TCET-Adult", "Nature-Adult"]}},
           "y": {"field": "y", "type": "quantitative", "axis": null},
           "text": {"field": "label"}
         }}
      ]
    },
    {
      "width": 233, "height": 137,
      "data": {"name": "d_old"},
      "title": {"text": "Old", "dx": 16, "offset": 3},
      "resolve": {"axis": {"x": "independent", "y": "independent"}},
      "layer": [
        {"mark": {"type": "bar", "stroke": "#7f7f7f", "strokeWidth": 1},
         "encoding": {
           "x": {"field": "site", "type": "ordinal", "scale": {"paddingInner": 0.5, "paddingOuter": 0.25}, "axis": {"title": "CpG Sites", "domainColor": "#8c8c8c"}},
           "xOffset": {"field": "group", "type": "nominal", "scale": {"domain": ["ICSI-Old", "TCET-Old", "Nature-Old"]}},
           "y": {"field": "mean", "type": "quantitative", "scale": {"domain": [0.3, 0.6], "zero": false, "nice": false}, "axis": {"title": "Percentage of Methylaltion", "values": [0.3, 0.35, 0.4, 0.45, 0.5, 0.55, 0.6], "format": ".0%", "domainColor": "#8c8c8c", "tickColor": "#8c8c8c"}},
           "y2": {"datum": 0.3},
           "fill": {"condition": {"test": "datum.group === 'TCET-Old'", "value": {"gradient": "linear", "x1": 0, "y1": 0, "x2": 0.15, "y2": 1.13, "stops": [{"offset":0,"color":"#fff"},{"offset":0.0357,"color":"#fff"},{"offset":0.0357,"color":"#a6a6a6"},{"offset":0.0714,"color":"#a6a6a6"},{"offset":0.0714,"color":"#fff"},{"offset":0.1071,"color":"#fff"},{"offset":0.1071,"color":"#a6a6a6"},{"offset":0.1429,"color":"#a6a6a6"},{"offset":0.1429,"color":"#fff"},{"offset":0.1786,"color":"#fff"},{"offset":0.1786,"color":"#a6a6a6"},{"offset":0.2143,"color":"#a6a6a6"},{"offset":0.2143,"color":"#fff"},{"offset":0.25,"color":"#fff"},{"offset":0.25,"color":"#a6a6a6"},{"offset":0.2857,"color":"#a6a6a6"},{"offset":0.2857,"color":"#fff"},{"offset":0.3214,"color":"#fff"},{"offset":0.3214,"color":"#a6a6a6"},{"offset":0.3571,"color":"#a6a6a6"},{"offset":0.3571,"color":"#fff"},{"offset":0.3929,"color":"#fff"},{"offset":0.3929,"color":"#a6a6a6"},{"offset":0.4286,"color":"#a6a6a6"},{"offset":0.4286,"color":"#fff"},{"offset":0.4643,"color":"#fff"},{"offset":0.4643,"color":"#a6a6a6"},{"offset":0.5,"color":"#a6a6a6"},{"offset":0.5,"color":"#fff"},{"offset":0.5357,"color":"#fff"},{"offset":0.5357,"color":"#a6a6a6"},{"offset":0.5714,"color":"#a6a6a6"},{"offset":0.5714,"color":"#fff"},{"offset":0.6071,"color":"#fff"},{"offset":0.6071,"color":"#a6a6a6"},{"offset":0.6429,"color":"#a6a6a6"},{"offset":0.6429,"color":"#fff"},{"offset":0.6786,"color":"#fff"},{"offset":0.6786,"color":"#a6a6a6"},{"offset":0.7143,"color":"#a6a6a6"},{"offset":0.7143,"color":"#fff"},{"offset":0.75,"color":"#fff"},{"offset":0.75,"color":"#a6a6a6"},{"offset":0.7857,"color":"#a6a6a6"},{"offset":0.7857,"color":"#fff"},{"offset":0.8214,"color":"#fff"},{"offset":0.8214,"color":"#a6a6a6"},{"offset":0.8571,"color":"#a6a6a6"},{"offset":0.8571,"color":"#fff"},{"offset":0.8929,"color":"#fff"},{"offset":0.8929,"color":"#a6a6a6"},{"offset":0.9286,"color":"#a6a6a6"},{"offset":0.9286,"color":"#fff"},{"offset":0.9643,"color":"#fff"},{"offset":0.9643,"color":"#a6a6a6"},{"offset":1,"color":"#a6a6a6"}]}},
             "field": "group", "type": "nominal", "scale": {"domain": ["ICSI-Old", "TCET-Old", "Nature-Old"], "range": ["#595959", "#c8c8c8", "#fff"]},
             "legend": {"title": null, "legendX": 210, "legendY": -18, "labelFontSize": 11.5, "symbolSize": 81, "rowPadding": 5,
               "encode": {"symbols": {"stroke": {"value": "#7f7f7f"}, "strokeWidth": {"value": 1}, "fill": [{"test": "datum.value === 'TCET-Old'", "value": {"gradient": "linear", "x1": 0, "y1": 0, "x2": 1, "y2": 1, "stops": [{"offset":0,"color":"#fff"},{"offset":0.2,"color":"#fff"},{"offset":0.2,"color":"#a6a6a6"},{"offset":0.4,"color":"#a6a6a6"},{"offset":0.4,"color":"#fff"},{"offset":0.6,"color":"#fff"},{"offset":0.6,"color":"#a6a6a6"},{"offset":0.8,"color":"#a6a6a6"},{"offset":0.8,"color":"#fff"},{"offset":1,"color":"#fff"}]}}, {"test": "datum.value === 'ICSI-Old'", "value": "#595959"}, {"value": "#fff"}]}}}}
         }},
        {"mark": {"type": "rule", "color": "#6b6b6b", "strokeWidth": 1.3},
         "encoding": {
           "x": {"field": "site", "type": "ordinal", "axis": null},
           "xOffset": {"field": "group", "type": "nominal", "scale": {"domain": ["ICSI-Old", "TCET-Old", "Nature-Old"]}},
           "y": {"field": "mean", "type": "quantitative", "axis": null},
           "y2": {"field": "upper"}
         }},
        {"mark": {"type": "tick", "color": "#6b6b6b", "thickness": 1.3, "size": 6},
         "encoding": {
           "x": {"field": "site", "type": "ordinal", "axis": null},
           "xOffset": {"field": "group", "type": "nominal", "scale": {"domain": ["ICSI-Old", "TCET-Old", "Nature-Old"]}},
           "y": {"field": "upper", "type": "quantitative", "axis": null}
         }}
      ]
    }
  ]
}
